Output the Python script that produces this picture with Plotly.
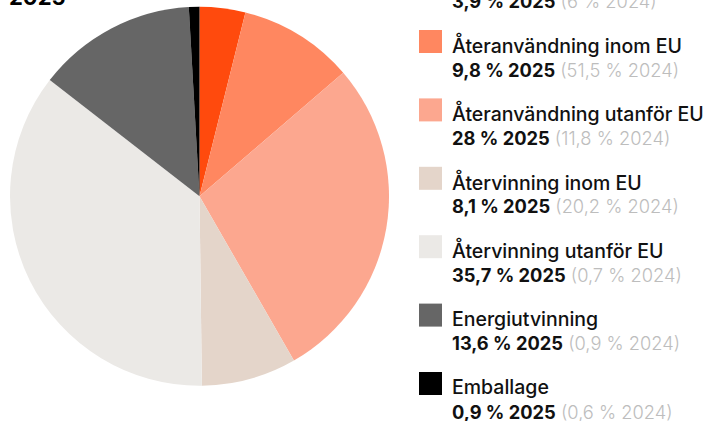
import plotly.graph_objects as go

W, H = 706, 421

labels = [
    "Återanvändning i Sverige",
    "Återanvändning inom EU",
    "Återanvändning utanför EU",
    "Återvinning inom EU",
    "Återvinning utanför EU",
    "Energiutvinning",
    "Emballage",
]
values_2025 = [3.9, 9.8, 28, 8.1, 35.7, 13.6, 0.9]
values_2024 = [6, 51.5, 11.8, 20.2, 0.7, 0.9, 0.6]
colors = ["#FF4A0D", "#FF8760", "#FCA78F", "#E4D5CA", "#EBE9E6", "#666666", "#000000"]
title_text = "2025"


def fmt(v):
    s = ("%g" % v).replace(".", ",")
    return s


fig = go.Figure()
fig.add_trace(go.Pie(
    labels=labels,
    values=values_2025,
    sort=False,
    direction="clockwise",
    rotation=0,
    marker=dict(colors=colors, line=dict(width=0)),
    textinfo="none",
    hoverinfo="label+percent",
    showlegend=False,
    domain=dict(x=[10 / W, 389 / W], y=[35 / H, 414.5 / H]),
))

shapes = []
annotations = []
FONT = "Inter"
for i, (lab, v25, v24, col) in enumerate(zip(labels, values_2025, values_2024, colors)):
    top = 30 + (i - 1) * 68.4
    shapes.append(dict(
        type="rect", xref="paper", yref="paper",
        x0=419 / W, x1=442 / W, y0=1 - (top + 23) / H, y1=1 - top / H,
        fillcolor=col, line=dict(width=0), layer="above",
    ))
    annotations.append(dict(
        xref="paper", yref="paper", x=450 / W, y=1 - (top + 15) / H,
        xanchor="left", yanchor="middle", showarrow=False,
        text=lab, font=dict(family=FONT, size=19.5, color="#111111", weight=500),
    ))
    annotations.append(dict(
        xref="paper", yref="paper", x=450 / W, y=1 - (top + 39.5) / H,
        xanchor="left", yanchor="middle", showarrow=False,
        text=(f"<b>{fmt(v25)} % 2025</b> "
              f"<span style='font-weight:300;color:#BDBDBD'>({fmt(v24)} % 2024)</span>"),
        font=dict(family=FONT, size=18.3, color="#111111"),
    ))

annotations.append(dict(
    xref="paper", yref="paper", x=7 / W, y=1 - (-3) / H,
    xanchor="left", yanchor="middle", showarrow=False,
    text=f"<b>{title_text}</b>", font=dict(family=FONT, size=22, color="#000000"),
))

fig.update_layout(
    width=W, height=H,
    margin=dict(l=0, r=0, t=0, b=0),
    paper_bgcolor="white", plot_bgcolor="white",
    shapes=shapes, annotations=annotations,
)

fig.write_html("out.html", config={"displayModeBar": False},
               post_script="document.body.style.margin='0';")
